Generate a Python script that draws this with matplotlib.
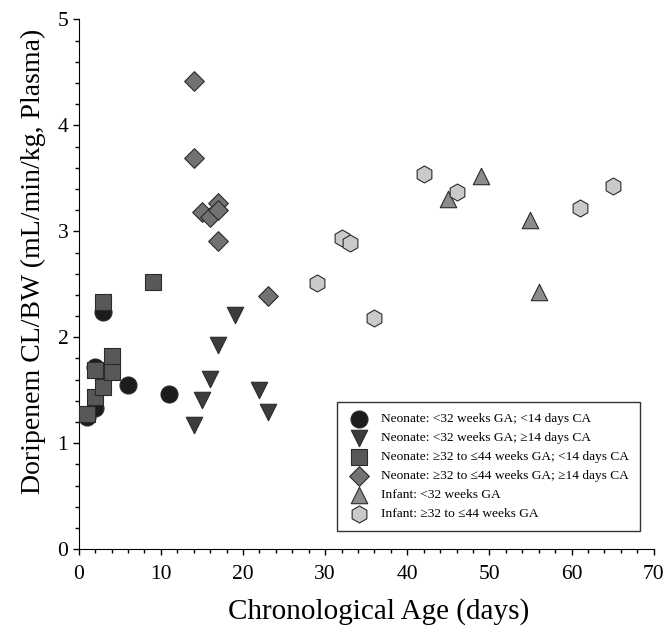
import matplotlib.pyplot as plt
from matplotlib.ticker import MultipleLocator

# Doripenem clearance by chronological age, per population group
circ_x = [1, 2, 2, 3, 6, 11]
circ_y = [1.25, 1.33, 1.72, 2.24, 1.55, 1.46]

tri_dn_x = [14, 15, 16, 17, 19, 22, 23]
tri_dn_y = [1.17, 1.41, 1.61, 1.93, 2.21, 1.50, 1.29]

sq_x = [1, 2, 2, 3, 3, 4, 4, 9]
sq_y = [1.28, 1.44, 1.69, 1.53, 2.33, 1.82, 1.67, 2.52]

dia_x = [14, 14, 15, 16, 17, 17, 17, 23]
dia_y = [4.42, 3.69, 3.18, 3.14, 3.27, 3.20, 2.91, 2.39]

tri_up_x = [45, 49, 55, 56]
tri_up_y = [3.31, 3.52, 3.11, 2.43]

hex_x = [29, 32, 33, 36, 42, 46, 61, 65]
hex_y = [2.51, 2.94, 2.89, 2.18, 3.54, 3.37, 3.22, 3.43]

labels = [
    "Neonate: <32 weeks GA; <14 days CA",
    "Neonate: <32 weeks GA; \u226514 days CA",
    "Neonate: \u226532 to \u226444 weeks GA; <14 days CA",
    "Neonate: \u226532 to \u226444 weeks GA; \u226514 days CA",
    "Infant: <32 weeks GA",
    "Infant: \u226532 to \u226444 weeks GA",
]

plt.rcParams['font.family'] = ['Liberation Serif', 'DejaVu Serif']

fig = plt.figure(figsize=(6.67, 6.29), dpi=100)
ax = fig.add_axes([0.118, 0.127, 0.862, 0.842])

edge = '#2a2a2a'
ax.scatter(circ_x, circ_y, marker='o', s=150, color='#1c1c1c', edgecolor=edge, lw=0.8, label=labels[0], zorder=3)
ax.scatter(tri_dn_x, tri_dn_y, marker='v', s=140, color='#3c3c3c', edgecolor=edge, lw=0.8, label=labels[1], zorder=3)
ax.scatter(sq_x, sq_y, marker='s', s=130, color='#585858', edgecolor=edge, lw=0.8, label=labels[2], zorder=3)
ax.scatter(dia_x, dia_y, marker='D', s=100, color='#727272', edgecolor=edge, lw=0.8, label=labels[3], zorder=3)
ax.scatter(tri_up_x, tri_up_y, marker='^', s=140, color='#8c8c8c', edgecolor=edge, lw=0.8, label=labels[4], zorder=3)
ax.scatter(hex_x, hex_y, marker='h', s=150, color='#cacaca', edgecolor=edge, lw=0.8, label=labels[5], zorder=3)

ax.set_xlim(0, 70)
ax.set_ylim(0, 5)
ax.xaxis.set_major_locator(MultipleLocator(10))
ax.xaxis.set_minor_locator(MultipleLocator(2))
ax.yaxis.set_major_locator(MultipleLocator(1))
ax.yaxis.set_minor_locator(MultipleLocator(0.2))
ax.tick_params(which='major', direction='out', length=4.5, labelsize=15.5, width=1, pad=3)
ax.tick_params(which='minor', direction='out', length=3, width=1)
ax.tick_params(axis='x', which='major', pad=7)
ax.spines['top'].set_visible(False)
ax.spines['right'].set_visible(False)

ax.set_xlabel("Chronological Age (days)", fontsize=21, labelpad=10, x=0.522)
ax.set_ylabel("Doripenem CL/BW (mL/min/kg, Plasma)", fontsize=20, labelpad=8, y=0.543)

leg = ax.legend(loc='lower right', bbox_to_anchor=(0.983, 0.027), fontsize=9.6,
                frameon=True, fancybox=False, edgecolor='black', handlelength=1.7,
                handletextpad=0.85, labelspacing=0.5, borderpad=0.8, borderaxespad=0.3,
                scatterpoints=1)
leg.get_frame().set_linewidth(1.0)

fig.savefig("out.png", dpi=100)
